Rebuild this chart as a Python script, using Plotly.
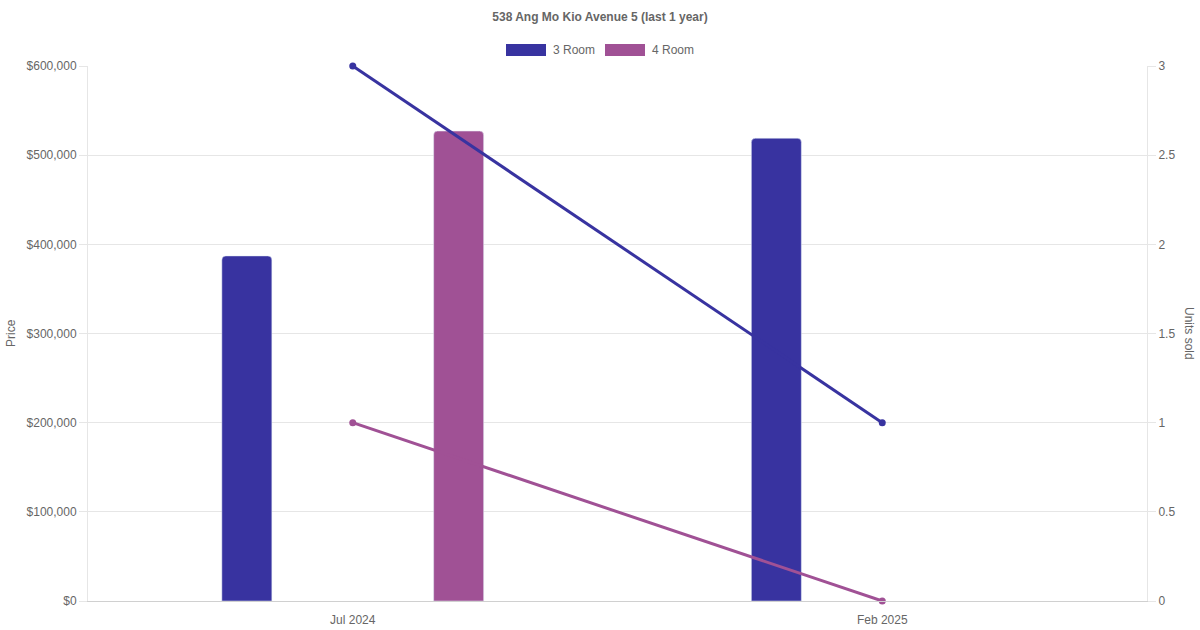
import plotly.graph_objects as go

months = ["Jul 2024", "Feb 2025"]
price_3room = [387000, 519000]
price_4room = [527000, None]
units_3room = [3, 1]
units_4room = [1, 0]
series_names = ["3 Room", "4 Room"]
colors = ["#3833A0", "#A05195"]
title_text = "538 Ang Mo Kio Avenue 5 (last 1 year)"

W, H = 1200, 630
L, T = 88, 66
pw, ph = 1059, 535
R = W - L - pw
B = H - T - ph

FONT = "Liberation Sans, Arial, sans-serif"
GRID = "#e6e6e6"
TXT = "#666666"

bw = 50 / 529.5
fig = go.Figure()
fig.add_trace(go.Bar(x=months, y=price_3room, name=series_names[0], marker_color=colors[0],
                     width=bw, offset=-0.2 - bw / 2, showlegend=False, yaxis="y"))
fig.add_trace(go.Bar(x=months, y=price_4room, name=series_names[1], marker_color=colors[1],
                     width=bw, offset=0.2 - bw / 2, showlegend=False, yaxis="y"))
fig.add_trace(go.Scatter(x=months, y=units_3room, mode="lines+markers", line=dict(color=colors[0], width=3),
                         marker=dict(size=7, color=colors[0]), showlegend=False, yaxis="y2",
                         cliponaxis=False))
fig.add_trace(go.Scatter(x=months, y=units_4room, mode="lines+markers", line=dict(color=colors[1], width=3),
                         marker=dict(size=7, color=colors[1]), showlegend=False, yaxis="y2",
                         cliponaxis=False))

def px_x(p):
    return (p - L) / pw

def px_y(p):
    return 1 - (p - T) / ph

shapes = []
annotations = []
legend_items = [(506, series_names[0], colors[0]), (605, series_names[1], colors[1])]
for x0, name, c in legend_items:
    shapes.append(dict(type="rect", xref="paper", yref="paper", x0=px_x(x0), x1=px_x(x0 + 40),
                       y0=px_y(56), y1=px_y(44), fillcolor=c, line=dict(width=0)))
    annotations.append(dict(xref="paper", yref="paper", x=px_x(x0 + 45), y=px_y(50), text=name,
                            showarrow=False, xanchor="left", yanchor="middle",
                            font=dict(family=FONT, size=12, color=TXT)))
annotations.append(dict(xref="paper", yref="paper", x=px_x(11), y=px_y(333), text="Price", textangle=-90,
                        showarrow=False, xanchor="center", yanchor="middle",
                        font=dict(family=FONT, size=12, color=TXT)))
annotations.append(dict(xref="paper", yref="paper", x=px_x(1189), y=px_y(333), text="Units sold", textangle=90,
                        showarrow=False, xanchor="center", yanchor="middle",
                        font=dict(family=FONT, size=12, color=TXT)))

fig.update_layout(
    width=W, height=H,
    margin=dict(l=L, r=R, t=T, b=B, pad=0, autoexpand=False),
    paper_bgcolor="white", plot_bgcolor="white",
    barmode="overlay", barcornerradius=4,
    font=dict(family=FONT, size=12, color=TXT),
    title=dict(text="<b>" + title_text + "</b>", x=0.5, xanchor="center", y=1 - 17 / H,
               yanchor="middle", font=dict(family=FONT, size=12, color=TXT)),
    showlegend=False,
    hovermode=False,
    xaxis=dict(type="category", range=[-0.5, 1.5], showgrid=False, showline=True, linecolor="#d0d0d0",
               linewidth=1, ticks="outside", ticklen=8, tickcolor="rgba(0,0,0,0)",
               tickfont=dict(size=12, color=TXT), zeroline=False),
    yaxis=dict(range=[0, 600000], dtick=100000, tickprefix="$", tickformat=",d", showgrid=True,
               gridcolor=GRID, showline=True, linecolor=GRID, ticks="outside", ticklen=8, tickcolor=GRID,
               zeroline=False, tickfont=dict(size=12, color=TXT)),
    yaxis2=dict(range=[0, 3], dtick=0.5, overlaying="y", side="right", showgrid=False, showline=True,
                linecolor=GRID, ticks="outside", ticklen=8, tickcolor=GRID, zeroline=False,
                tickfont=dict(size=12, color=TXT)),
    shapes=shapes, annotations=annotations,
)

fig.write_html("out.html", config={"displayModeBar": False},
               post_script="document.body.style.margin='0';document.body.style.overflow='hidden';")
